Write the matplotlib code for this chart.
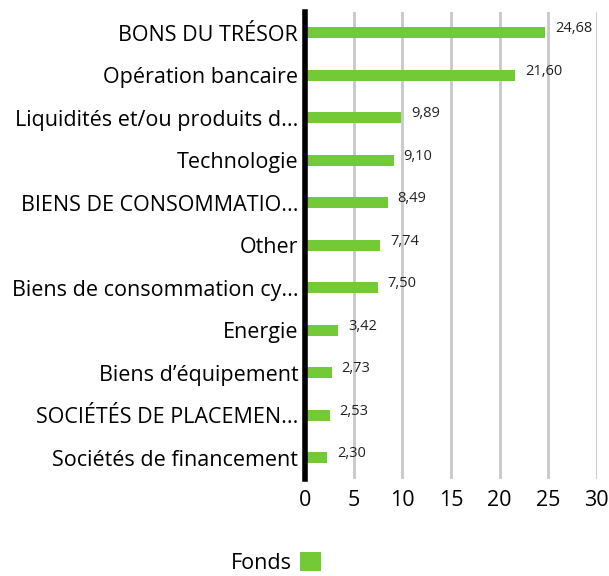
import matplotlib.pyplot as plt
from matplotlib.patches import Patch

# Sector weights (Fonds)
categories = [
    "BONS DU TRÉSOR",
    "Opération bancaire",
    "Liquidités et/ou produits d...",
    "Technologie",
    "BIENS DE CONSOMMATIO...",
    "Other",
    "Biens de consommation cy...",
    "Energie",
    "Biens d’équipement",
    "SOCIÉTÉS DE PLACEMEN...",
    "Sociétés de financement",
]
values = [24.68, 21.60, 9.89, 9.10, 8.49, 7.74, 7.50, 3.42, 2.73, 2.53, 2.30]
x_ticks = [0, 5, 10, 15, 20, 25, 30]

GREEN = "#74c936"
plt.rcParams['font.family'] = ['Open Sans', 'DejaVu Sans']

fig = plt.figure(figsize=(6.09, 5.76), dpi=100)
ax = fig.add_axes([0.501, 0.168, 0.479, 0.812])

ypos = list(range(len(categories)))
ax.barh(ypos, values, height=0.26, color=GREEN, zorder=3)

for y, v in zip(ypos, values):
    label = f"{v:.2f}".replace(".", ",")
    ax.annotate(label, xy=(v, y), xytext=(7, 3), textcoords='offset points',
                fontsize=10.5, va='center', ha='left', color='#222222')

ax.set_yticks(ypos)
ax.set_yticklabels(categories, fontsize=15.5)
ax.set_ylim(len(categories) - 0.5, -0.5)
ax.set_xlim(0, 30)
ax.set_xticks(x_ticks)
ax.set_xticklabels([str(t) for t in x_ticks], fontsize=15.5)
ax.tick_params(axis='y', length=0, pad=5)
ax.tick_params(axis='x', length=0, pad=8)

ax.grid(axis='x', color='#c8c8c8', linewidth=2, zorder=0)
ax.grid(axis='y', visible=False)
for side in ['top', 'right', 'bottom']:
    ax.spines[side].set_visible(False)
ax.spines['left'].set_linewidth(4)
ax.spines['left'].set_color('black')
ax.spines['left'].set_zorder(4)

handle = Patch(facecolor=GREEN, edgecolor='none', label='Fonds')
fig.legend(handles=[handle], loc='center', bbox_to_anchor=(0.453, 0.022),
           frameon=False, markerfirst=False, fontsize=15.5,
           handlelength=0.95, handleheight=0.95, handletextpad=0.4,
           borderpad=0, borderaxespad=0)

fig.savefig('out.png', dpi=100)
